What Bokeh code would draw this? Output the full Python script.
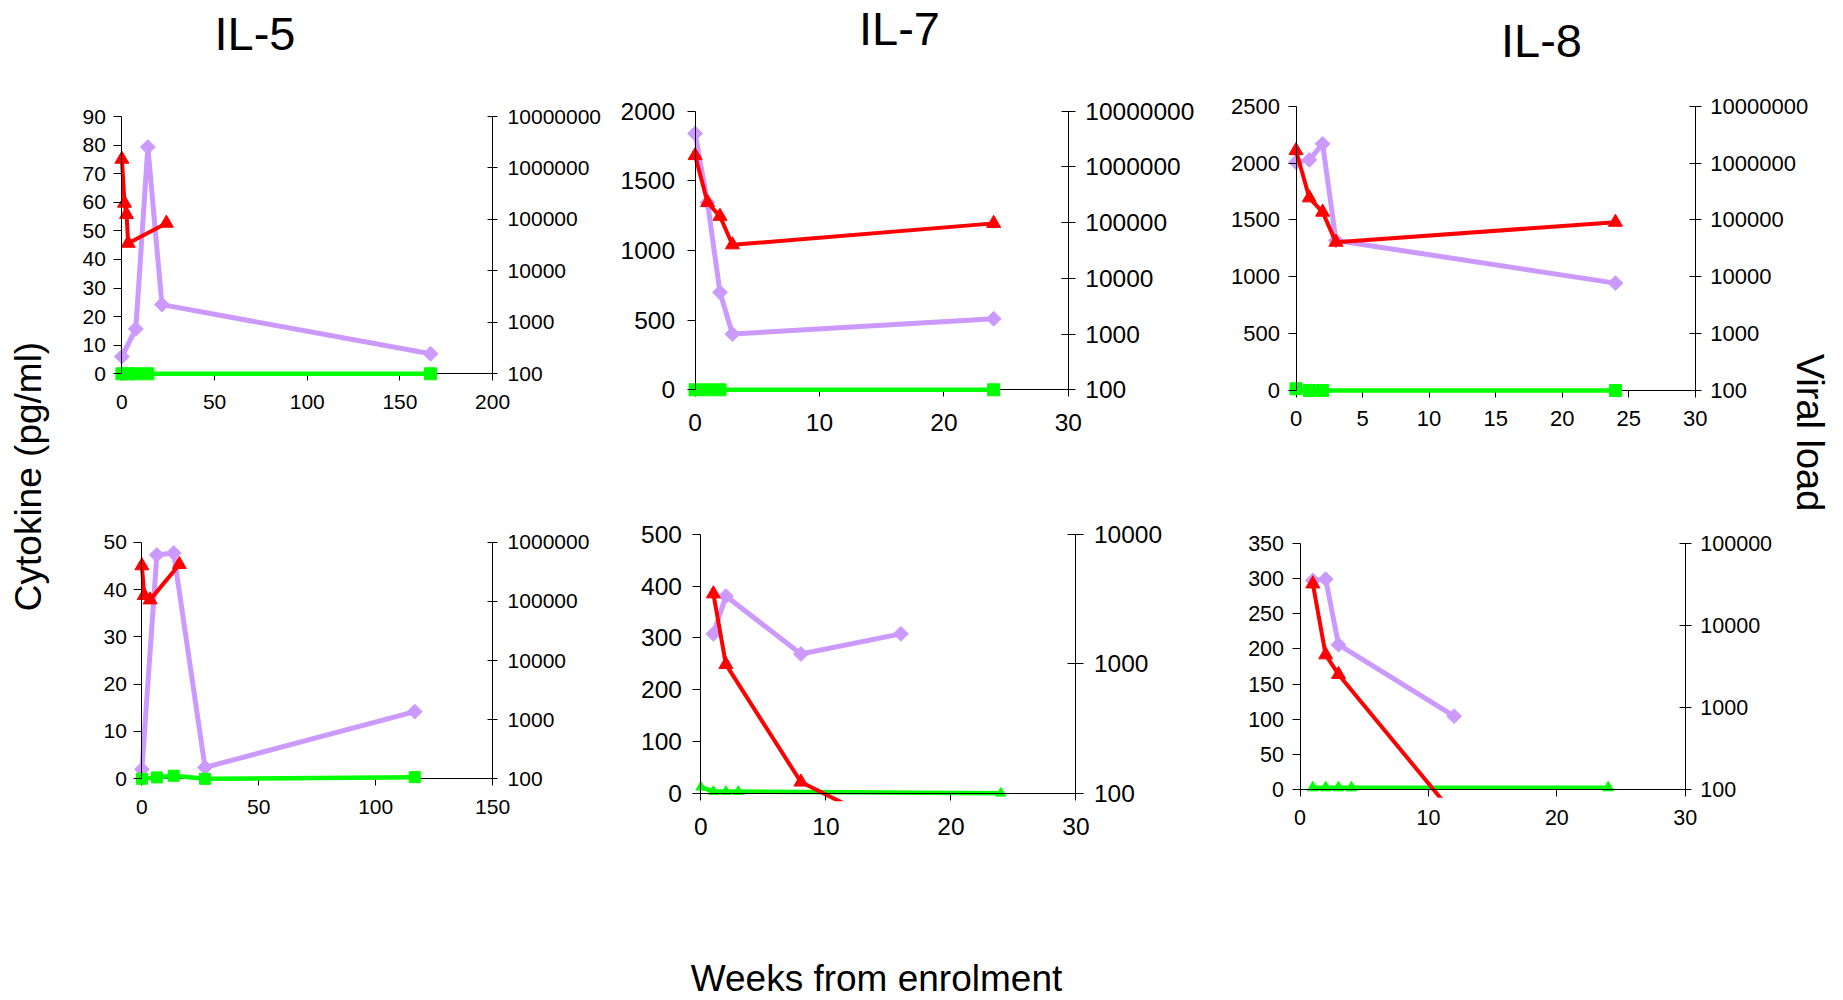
import math
from bokeh.plotting import figure
from bokeh.layouts import row, column
from bokeh.models import (Range1d, LinearAxis, LogAxis, LogScale, FixedTicker,
                          BasicTickFormatter, Label, BoxAnnotation)
from bokeh.embed import file_html
from bokeh.resources import INLINE
from bokeh.core.properties import value

# ---------------- data (weeks from enrolment, cytokine pg/ml, viral load) ----------------
# IL-5, patient 1
a_wk_cyt = [0, 7.5, 14, 21.6, 166.5]
a_cyt = [6, 15.7, 79.3, 24.2, 7]
a_wk_vl = [0, 1.4, 2.5, 3.4, 24]
a_vl = [1.48e6, 2.07e5, 1.25e5, 3.45e4, 8.45e4]
a_wk_g = [0, 3, 7.5, 14, 166.5]
a_g = [0, 0, 0, 0, 0]
# IL-7, patient 1
b_wk_cyt = [0, 1, 2, 3, 24]
b_cyt = [1840, 1345, 700, 400, 510]
b_wk_vl = [0, 1, 2, 3, 24]
b_vl = [1.6e6, 2.3e5, 1.3e5, 4.0e4, 9.7e4]
b_wk_g = [0, 1, 2, 24]
b_g = [0, 0, 0, 0]
# IL-8, patient 1
c_wk_cyt = [0, 1, 2, 3, 24]
c_cyt = [2008, 2028, 2169, 1319, 944]
c_wk_vl = [0, 1, 2, 3, 24]
c_vl = [1.66e6, 2.45e5, 1.37e5, 4.06e4, 9.1e4]
c_wk_g = [0, 1, 2, 24]
c_g = [15, 0, 0, 0]
# IL-5, patient 2
d_wk_cyt = [0, 6.4, 13.6, 27, 116.7]
d_cyt = [2, 47.3, 47.7, 2.4, 14.2]
d_wk_vl = [0, 1, 3.5, 16]
d_vl = [4.0e5, 1.26e5, 1.06e5, 4.2e5]
d_wk_g = [0, 6.4, 13.6, 27, 116.7]
d_g = [0, 0.3, 0.65, 0, 0.35]
# IL-7, patient 2
e_wk_cyt = [1, 2, 8, 16]
e_cyt = [308, 381, 269, 308]
e_wk_vl = [1, 2, 8, 16]
e_vl = [3480, 990, 122, 50]
e_wk_g = [0, 1, 2, 3, 24]
e_g = [11.6, 3.2, 3.2, 3.2, 0]
# IL-8, patient 2
f_wk_cyt = [1, 2, 3, 12]
f_cyt = [297, 299, 206, 104.5]
f_wk_vl = [1, 2, 3, 12]
f_vl = [32000, 4390, 2530, 50]
f_wk_g = [1, 2, 3, 4, 24]
f_g = [3, 3, 3, 3, 3]

titles = ["IL-5", "IL-7", "IL-8"]
x_label = "Weeks from enrolment"
y_label = "Cytokine (pg/ml)"
y2_label = "Viral load"

PURPLE = "#CC99FF"
RED = "#FF0000"
GREEN = "#00FF00"
FONT = "Liberation Sans"


def blank(w, h):
    p = figure(width=w, height=h, x_range=Range1d(0, w), y_range=Range1d(0, h),
               output_backend="svg", toolbar_location=None,
               x_axis_location=None, y_axis_location=None, min_border=0)
    p.outline_line_color = None
    p.xgrid.visible = False
    p.ygrid.visible = False
    return p


def panel(box, axes, xmax, xticks, ymax, yticks, llo, lhi, fs, st, tk,
          cyt, vl, grn, gmarker, gsize, clip_below=False, vlabel=None):
    fx0, fx1, fy0, fy1 = box
    L, R, T, B = axes
    kx = xmax / (R - L)
    x0 = -(L - fx0) * kx
    x1 = xmax + (fx1 - R) * kx
    ky = ymax / (B - T)
    y0 = -(fy1 - B) * ky
    y1 = ymax + (T - fy0) * ky
    dec = (B - T) / (lhi - llo)
    l0 = 10 ** (llo - (fy1 - B) / dec)
    l1 = 10 ** (lhi + (T - fy0) / dec)
    p = figure(width=fx1 - fx0, height=fy1 - fy0,
               x_range=Range1d(x0, x1), y_range=Range1d(y0, y1),
               output_backend="svg", toolbar_location=None,
               x_axis_location=None, y_axis_location=None, min_border=0)
    p.extra_y_ranges = {"vl": Range1d(l0, l1)}
    p.extra_y_scales = {"vl": LogScale()}
    p.outline_line_color = None
    p.xgrid.visible = False
    p.ygrid.visible = False

    sl, sr, sb = st
    tl, tr, tb = tk
    lvl = "overlay" if clip_below else "guide"
    common = dict(axis_line_color="black", major_tick_line_color="black",
                  major_label_text_font=FONT, major_label_text_font_size=f"{fs}px",
                  major_label_text_color="black", minor_tick_line_color=None)
    ax_l = LinearAxis(ticker=FixedTicker(ticks=yticks), bounds=(0, ymax), fixed_location=0,
                      major_tick_out=tl, major_tick_in=0, major_label_standoff=sl, **common)
    ax_l.level = lvl
    p.add_layout(ax_l, "left")
    log_ticks = [10 ** k for k in range(llo, lhi + 1)]
    ax_r = LogAxis(y_range_name="vl", ticker=FixedTicker(ticks=log_ticks),
                   bounds=(10 ** llo, 10 ** lhi), fixed_location=xmax,
                   formatter=BasicTickFormatter(use_scientific=False),
                   major_tick_out=tr, major_tick_in=tr, major_label_standoff=sr, **common)
    ax_r.level = lvl
    p.add_layout(ax_r, "right")
    ax_b = LinearAxis(ticker=FixedTicker(ticks=xticks), bounds=(0, xmax), fixed_location=0,
                      major_tick_out=tb, major_tick_in=0, major_label_standoff=sb, **common)
    ax_b.level = "overlay" if clip_below else "underlay"
    p.add_layout(ax_b, "below")

    cx, cy = cyt
    p.line(cx, cy, line_color=PURPLE, line_width=5)
    p.scatter(cx, cy, marker="square", size=10.5, angle=math.pi / 4,
              fill_color=PURPLE, line_color=PURPLE)
    gx, gy = grn
    p.line(gx, gy, line_color=GREEN, line_width=4.5)
    p.scatter(gx, gy, marker=gmarker, size=gsize, fill_color=GREEN, line_color=GREEN)
    vx, vy = vl
    p.line(vx, vy, line_color=RED, line_width=4, y_range_name="vl")
    p.scatter(vx, vy, marker="triangle", size=14, fill_color=RED, line_color=RED,
              y_range_name="vl")

    if clip_below:
        # the plot area ends a few pixels under the week axis: hide what falls below it
        p.add_layout(BoxAnnotation(top=-8 * ky, fill_color="white", fill_alpha=1.0,
                                   line_color=None))

    if vlabel is not None:
        px, py, txt = vlabel
        lx = x0 + (px - fx0) * kx
        ly = y1 - (py - fy0) * ky
        p.add_layout(Label(x=lx, y=ly, text=txt, angle=-math.pi / 2,
                           text_align="center", text_baseline="middle",
                           text_font=FONT, text_font_size="38px", text_color="black"))
    return p


TH = 70  # height of the title strip
C1, C2, C3, C4 = 60, 610, 1205, 1843
R1, R2 = 518, 870

pa = panel((C1, C2, TH, R1), (121.4, 492.1, 116, 373.3), 200, [0, 50, 100, 150, 200],
           90, list(range(0, 91, 10)), 2, 7, 21, (8, 10, 14), (8, 5, 7),
           (a_wk_cyt, a_cyt), (a_wk_vl, a_vl), (a_wk_g, a_g), "square", 12)
pb = panel((C2, C3, TH, R1), (694.6, 1067.8, 110.7, 389.3), 30, [0, 10, 20, 30],
           2000, [0, 500, 1000, 1500, 2000], 2, 7, 24.5, (12, 10, 17), (8, 7, 7),
           (b_wk_cyt, b_cyt), (b_wk_vl, b_vl), (b_wk_g, b_g), "square", 12)
pc = panel((C3, C4, TH, R1), (1295.5, 1694.8, 105.7, 390), 30, [0, 5, 10, 15, 20, 25, 30],
           2500, [0, 500, 1000, 1500, 2000, 2500], 2, 7, 22, (8, 9, 13), (8, 6, 7),
           (c_wk_cyt, c_cyt), (c_wk_vl, c_vl), (c_wk_g, c_g), "square", 12,
           vlabel=(1809, 432, y2_label))
pd_ = panel((C1, C2, R1, R2), (141.4, 492.1, 541.7, 778.3), 150, [0, 50, 100, 150],
            50, [0, 10, 20, 30, 40, 50], 2, 6, 21, (7, 10, 14), (8, 5, 7),
            (d_wk_cyt, d_cyt), (d_wk_vl, d_vl), (d_wk_g, d_g), "square", 11)
pe = panel((C2, C3, R1, R2), (700.4, 1075.4, 534, 792.7), 30, [0, 10, 20, 30],
           500, [0, 100, 200, 300, 400, 500], 2, 4, 24.5, (11, 10, 18), (8, 8, 7),
           (e_wk_cyt, e_cyt), (e_wk_vl, e_vl), (e_wk_g, e_g), "triangle", 10,
           clip_below=True)
pf = panel((C3, C4, R1, R2), (1299.5, 1684.8, 542.7, 789.3), 30, [0, 10, 20, 30],
           350, [0, 50, 100, 150, 200, 250, 300, 350], 2, 5, 21.5, (8, 9, 13), (8, 6, 7),
           (f_wk_cyt, f_cyt), (f_wk_vl, f_vl), (f_wk_g, f_g), "triangle", 11,
           clip_below=True)

# titles (anchored at the centre of the capitals, page coordinates)
t_specs = [(C1, C2, 254.5, 32.5), (C2, C3, 899, 27.5), (C3, C4, 1541, 39.5)]
tfigs = []
for (a, b, tx, ty), t in zip(t_specs, titles):
    tf = blank(b - a, TH)
    tf.text(x=[tx - a], y=[TH - ty], text=[t], text_align="center", text_baseline="middle",
            text_font=value(FONT), text_font_size="47px", text_color="black")
    tfigs.append(tf)

left = blank(C1, 1000)
left.text(x=[28], y=[1000 - 476], text=[y_label], angle=math.pi / 2,
          text_align="center", text_baseline="middle",
          text_font=value(FONT), text_font_size="37px", text_color="black")

bottom = blank(C4 - C1, 1000 - R2)
bottom.text(x=[876 - C1], y=[1000 - 978], text=[x_label], text_align="center",
            text_baseline="middle", text_font=value(FONT), text_font_size="37px",
            text_color="black")

col1 = column(tfigs[0], pa, pd_, spacing=0)
col2 = column(tfigs[1], pb, pe, spacing=0)
col3 = column(tfigs[2], pc, pf, spacing=0)
layout = row(left, column(row(col1, col2, col3, spacing=0), bottom, spacing=0), spacing=0)

open("out.html", "w").write(file_html(layout, INLINE))
